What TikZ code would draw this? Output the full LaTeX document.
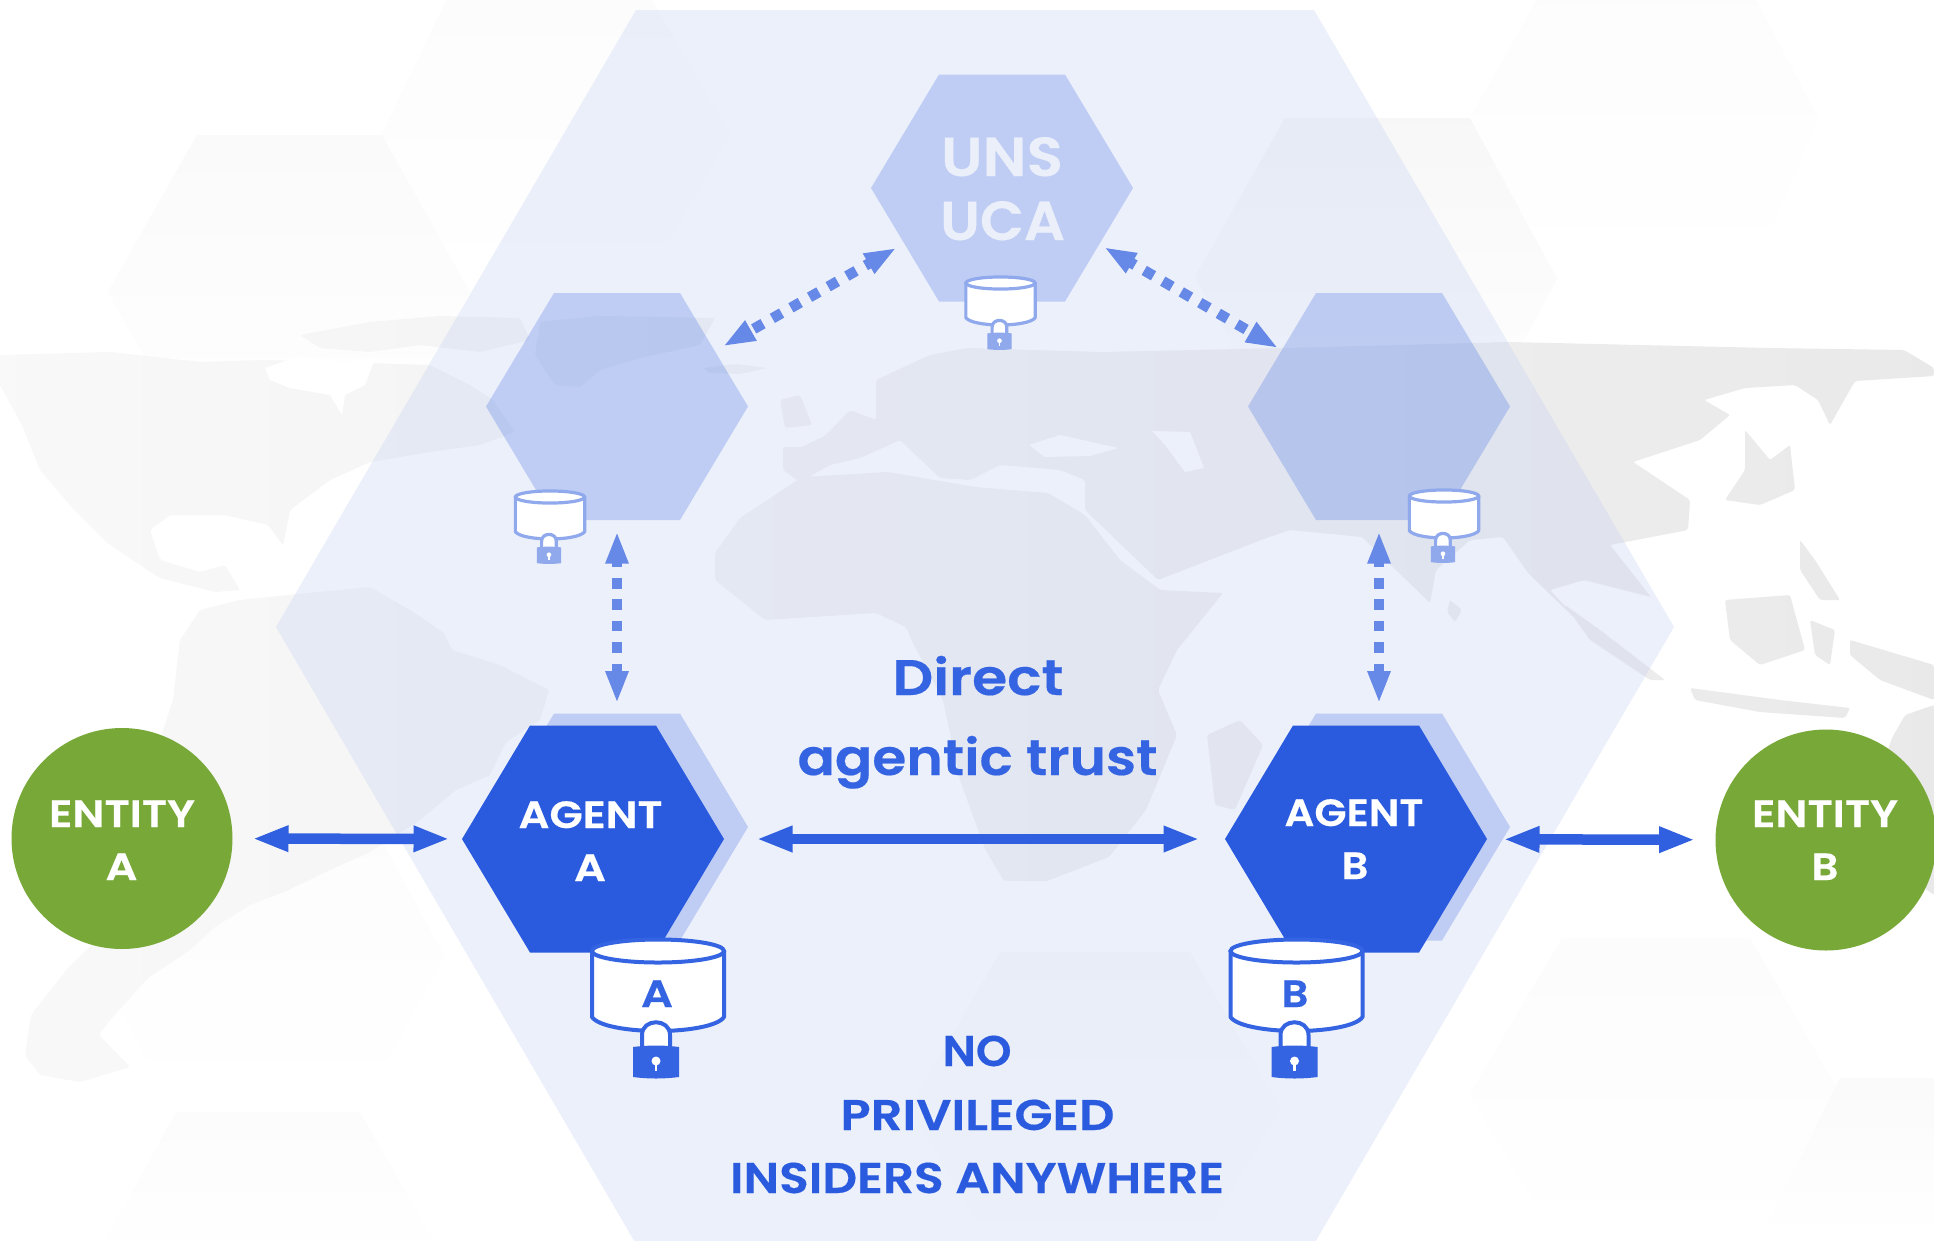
\documentclass[tikz,border=0pt]{standalone}
\usepackage{graphicx}
\usepackage{fontspec}
\newfontfamily\mont[FakeBold=0.35]{Poppins SemiBold}
\usetikzlibrary{arrows.meta}
\definecolor{hexblue}{HTML}{2A5BDF}
\definecolor{arrowblue}{HTML}{3060E0}
\definecolor{dotblue}{HTML}{6688E6}
\definecolor{textblue}{HTML}{3464E2}
\definecolor{entgreen}{HTML}{78A938}
\definecolor{bighex}{HTML}{CAD5F4}
\definecolor{dbsmall}{HTML}{8FA9EC}
\definecolor{unstext}{HTML}{EBEFFA}
\tikzset{
  hexpale/.style={fill=hexblue,fill opacity=.23},
  hexsolid/.style={fill=hexblue},
  entcircle/.style={circle,minimum size=221pt,inner sep=0pt,outer sep=0pt,fill=entgreen},
  txtlabel/.style={anchor=base,inner sep=0pt,outer sep=0pt},
  solidarrow/.style={line width=10.5pt,draw=arrowblue,{Triangle[length=36pt,width=24pt]}-{Triangle[length=36pt,width=24pt]}},
  dotarrow/.style={line width=10.5pt,draw=dotblue,dash pattern=on 10.7pt off 10.7pt,dash phase=5pt,{Triangle[length=32pt,width=21pt]}-{Triangle[length=32pt,width=21pt]}},
  maphole/.style={fill=white},
}
% style, name, x, y : a hexagon with a named centre
\newcommand{\hexat}[4]{\coordinate (#2) at (#3,#4);
  \fill[#1,shift={(#3,#4)}] (-63,-113.5) -- (63,-113.5) -- (131,0) -- (63,113.5) -- (-63,113.5) -- (-131,0) -- cycle;}
% name, x, baseline y, width, font size, colour, text
\newcommand{\tlabel}[7]{\node[txtlabel,text=#6] (#1) at (#2,#3) {\resizebox{#4pt}{\height}{\fontsize{#5}{#5}\selectfont\mont #7}};}
% x, y, scale, colour, lock colour, line width
\newcommand{\dbicon}[6]{%
\begin{scope}[shift={(#1,#2)},scale=#3]
  \draw[draw=#4,fill=white,line width=#6pt,line join=round] (-66,0) -- (-66,66) .. controls (-60,75) and (-30,80) .. (0,80) .. controls (30,80) and (60,75) .. (66,66) -- (66,0) -- cycle;
  \draw[draw=#4,fill=white,line width=#6pt] (0,0) ellipse [x radius=66,y radius=11.5];
  \draw[draw=#4,fill=white,line width=#6pt] (-16,98) -- (-16,84) .. controls (-16,67) and (12,67) .. (12,84) -- (12,98);
  \fill[#5] (-25,96) .. controls (-10,94) and (6,94) .. (21,96) -- (21,126) .. controls (6,128) and (-10,128) .. (-25,126) -- cycle;
  \fill[white] (-2,110) circle [radius=4.5];
  \fill[white] (-3.3,110) rectangle (-0.7,120);
\end{scope}}
\begin{document}
\begin{tikzpicture}[x=1pt,y=-1pt]
\useasboundingbox (0,0) rectangle (1934,1240);
\clip (0,0) rectangle (1934,1240);
\fill[white] (0,0) rectangle (1934,1240);
% faint background hexagons
\shade[top color=black!2,bottom color=white] (197,135) -- (382,135) -- (470,292) -- (382,450) -- (197,450) -- (108,292) -- cycle;
\shade[top color=black!1.2,bottom color=white] (456,-20) -- (382,134) -- (470,292) -- (640,292) -- (730,134) -- (640,-20) -- cycle;
\shade[top color=black!3,bottom color=white] (1285,118) -- (1470,118) -- (1558,277) -- (1470,440) -- (1285,440) -- (1195,277) -- cycle;
\shade[top color=black!1,bottom color=white] (1537,0) -- (1470,118) -- (1558,280) -- (1750,280) -- (1818,118) -- (1756,0) -- cycle;
\shade[top color=black!1.2,bottom color=white] (1562,938) -- (1750,938) -- (1840,1094) -- (1750,1250) -- (1562,1250) -- (1470,1094) -- cycle;
\shade[top color=black!2,bottom color=white] (1840,1078) -- (1934,1078) -- (1934,1240) -- (1760,1240) -- cycle;
\shade[top color=black!1.2,bottom color=white] (176,800) -- (360,800) -- (444,956) -- (360,1110) -- (176,1110) -- (90,956) -- cycle;
\shade[top color=black!1.2,bottom color=white] (176,1112) -- (360,1112) -- (450,1270) -- (90,1270) -- cycle;
\shade[top color=black!1.5,bottom color=white] (1000,952) -- (1190,952) -- (1280,1108) -- (1190,1260) -- (1000,1260) -- (910,1108) -- cycle;
% world map
\shade[left color=black!2.5,right color=black!8.5,rounded corners=2pt]
  (0,355) -- (110,352) -- (200,362) -- (265,360) -- (430,365) -- (470,385) -- (493,400) -- (515,432) -- (480,445) -- (430,452) -- (370,462) -- (330,480) -- (290,510) -- (283,545) -- (268,525) -- (225,515) -- (170,515) -- (150,530) -- (160,560) -- (200,572) -- (225,565) -- (240,590) -- (215,592) -- (160,578) -- (110,545) -- (70,505) -- (40,470) -- (22,425) -- (0,385) -- cycle
  (300,335) -- (370,322) -- (440,316) -- (520,318) -- (530,340) -- (480,352) -- (420,345) -- (370,352) -- (320,348) -- cycle
  (540,322) -- (600,316) -- (715,318) -- (700,345) -- (640,358) -- (600,370) -- (580,387) -- (555,385) -- (535,355) -- cycle
  (703,368) -- (735,364) -- (768,368) -- (740,374) -- (710,373) -- cycle
  (308,593) -- (370,587) -- (410,610) -- (444,633) -- (452,650) -- (500,665) -- (549,690) -- (540,720) -- (506,742) -- (490,775) -- (456,790) -- (420,820) -- (370,852) -- (330,870) -- (284,892) -- (250,905) -- (216,926) -- (190,950) -- (148,978) -- (110,1020) -- (99,1035) -- (130,1067) -- (80,1082) -- (40,1075) -- (25,1055) -- (31,1015) -- (68,968) -- (92,945) -- (120,880) -- (130,820) -- (150,770) -- (173,700) -- (180,640) -- (200,610) -- (240,600) -- cycle
  (715,553) -- (740,518) -- (802,477) -- (888,472) -- (975,487) -- (1048,493) -- (1085,515) -- (1120,560) -- (1160,590) -- (1223,593) -- (1177,650) -- (1158,690) -- (1177,735) -- (1146,810) -- (1109,857) -- (1047,881) -- (1004,881) -- (985,849) -- (960,780) -- (943,700) -- (913,643) -- (906,627) -- (876,613) -- (765,620) -- (715,580) -- cycle
  (1207,735) -- (1240,720) -- (1263,745) -- (1235,810) -- (1215,805) -- cycle
  (783,470) -- (783,447) -- (802,447) -- (826,435) -- (850,410) -- (876,420) -- (876,380) -- (930,355) -- (967,348) -- (1100,352) -- (1288,348) -- (1510,342) -- (1769,348) -- (1904,350) -- (1934,368) -- (1934,376) -- (1855,381) -- (1830,425) -- (1818,400) -- (1795,385) -- (1745,388) -- (1704,400) -- (1730,415) -- (1700,440) -- (1633,462) -- (1690,500) -- (1688,530) -- (1610,545) -- (1651,597) -- (1584,580) -- (1550,590) -- (1590,633) -- (1528,573) -- (1503,537) -- (1470,540) -- (1436,570) -- (1430,603) -- (1362,537) -- (1290,530) -- (1269,537) -- (1158,580) -- (1085,510) -- (1085,480) -- (1060,470) -- (1000,465) -- (970,480) -- (940,478) -- (900,440) -- (860,458) -- (830,465) -- (800,482) -- cycle
  (780,400) -- (800,395) -- (812,425) -- (785,428) -- cycle
  (1450,600) -- (1462,610) -- (1455,622) -- (1447,612) -- cycle
  (1565,605) -- (1600,630) -- (1665,680) -- (1650,680) -- (1590,640) -- cycle
  (1725,600) -- (1790,595) -- (1805,650) -- (1760,665) -- (1730,640) -- cycle
  (1800,540) -- (1815,560) -- (1840,600) -- (1820,600) -- (1800,570) -- cycle
  (1690,688) -- (1780,700) -- (1850,708) -- (1845,718) -- (1760,712) -- (1695,700) -- cycle
  (1850,640) -- (1934,665) -- (1934,700) -- (1880,680) -- (1850,655) -- cycle
  (1810,620) -- (1835,630) -- (1830,665) -- (1815,655) -- cycle
  (1745,430) -- (1770,460) -- (1790,445) -- (1795,490) -- (1760,505) -- (1725,500) -- (1745,470) -- cycle
  (1892,738) -- (1905,715) -- (1934,705) -- (1934,895) -- (1900,870) -- (1880,800) -- (1886,755) -- cycle;
% inland waters
\fill[maphole] (265,368) -- (300,356) -- (345,362) -- (375,358) -- (365,385) -- (345,395) -- (342,415) -- (330,395) -- (290,388) -- (270,380) -- cycle;
\fill[maphole] (1029,445) -- (1060,435) -- (1118,448) -- (1090,456) -- (1045,457) -- cycle;
\fill[maphole] (1152,431) -- (1190,432) -- (1204,468) -- (1185,472) -- (1165,445) -- cycle;
% the large hexagon
\fill[bighex,fill opacity=.35] (636,10) -- (1314,10) -- (1674,627) -- (1314,1244) -- (636,1244) -- (276,627) -- cycle;
% hexagons
\hexat{hexpale}{uns}{1002}{188}
\hexat{hexpale}{hexl}{617}{406.5}
\hexat{hexpale}{hexr}{1379}{406.5}
\hexat{hexpale}{palea}{617}{827}
\hexat{hexpale}{paleb}{1379}{827}
\hexat{hexsolid}{agenta}{593}{839}
\hexat{hexsolid}{agentb}{1356}{839}
\node[entcircle] (enta) at (122,838.5) {};
\node[entcircle] (entb) at (1826,840) {};
% connectors
\draw[solidarrow,shorten <=130.5pt,shorten >=143.5pt] (enta.center) -- (agenta);
\draw[solidarrow,shorten <=163.5pt,shorten >=156.5pt] (agenta) -- (agentb);
\draw[solidarrow,shorten <=147.5pt,shorten >=131pt] (agentb) -- (entb.center);
\draw[dotarrow,xshift=1.2pt,shorten <=125pt,shorten >=123.8pt] (hexl) -- (palea);
\draw[dotarrow,shorten <=125pt,shorten >=123.8pt] (hexr) -- (paleb);
\draw[dotarrow,shorten <=121.4pt,shorten >=122pt] (uns) -- (hexl);
\draw[dotarrow,shorten <=118pt,shorten >=116.5pt] (uns) -- (hexr);
% databases
\dbicon{658}{951}{1}{textblue}{textblue}{4}
\dbicon{1296.5}{951}{1}{textblue}{textblue}{4}
\dbicon{1000.5}{283}{.525}{dbsmall}{dbsmall}{3.2}
\dbicon{550}{497}{.525}{dbsmall}{dbsmall}{3.2}
\dbicon{1444}{496}{.525}{dbsmall}{dbsmall}{3.2}
% labels
\tlabel{tuns}{1002}{176}{122}{55}{unstext}{UNS}
\tlabel{tuca}{1002.5}{240}{125}{55}{unstext}{UCA}
\tlabel{tea}{122}{827}{146}{38}{white}{ENTITY}
\tlabel{teaa}{121.5}{880}{32}{38}{white}{A}
\tlabel{teb}{1825}{827}{146}{38}{white}{ENTITY}
\tlabel{tebb}{1825}{880}{27}{38}{white}{B}
\tlabel{taa}{590.5}{828}{144}{38}{white}{AGENT}
\tlabel{taaa}{590}{881}{32}{38}{white}{A}
\tlabel{tab}{1354}{826}{139}{38}{white}{AGENT}
\tlabel{tabb}{1355}{879}{27}{38}{white}{B}
\tlabel{tdba}{657}{1007}{32}{38}{textblue}{A}
\tlabel{tdbb}{1295}{1007}{27}{38}{textblue}{B}
\tlabel{tdirect}{978}{695}{171}{50}{textblue}{Direct}
\tlabel{ttrust}{977.5}{775}{360}{50}{textblue}{agentic trust}
\tlabel{tno}{977}{1066}{69}{43}{hexblue}{NO}
\tlabel{tpriv}{977.5}{1130}{274}{43}{hexblue}{PRIVILEGED}
\tlabel{tins}{977}{1193}{494}{43}{hexblue}{INSIDERS ANYWHERE}
\end{tikzpicture}
\end{document}
